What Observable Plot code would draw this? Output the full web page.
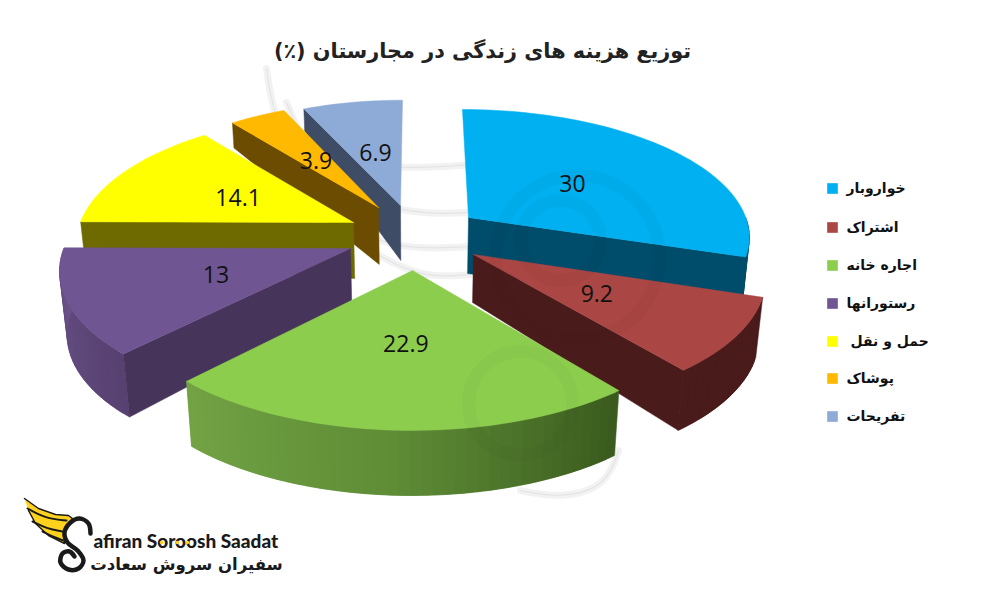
<!DOCTYPE html>
<html><head><meta charset="utf-8">
<script src="https://cdn.jsdelivr.net/npm/d3@7"></script>
<script src="https://cdn.jsdelivr.net/npm/@observablehq/plot@0.6"></script>
<style>html,body{margin:0;padding:0;background:#fff}svg{display:block}</style>
</head><body><div id="chart"></div>
<script>
const titleText = "\u200Fتوزیع هزینه های زندگی در مجارستان (٪)\u200F";
const categories = ["خواروبار","اشتراک","اجاره خانه","رستورانها","حمل و نقل","پوشاک","تفریحات"];
const values = [30, 9.2, 22.9, 13, 14.1, 3.9, 6.9];
const colors = ["#00b0f0","#aa4644","#8ccd4e","#705593","#ffff00","#ffb900","#8eaad6"];
const edgeColors = ["#004c6b","#4a1b1b","#3c5c20","#47345a","#6e6a00","#6b4c00","#3f4c66"];
const rimColors = [["#004c6b","#004c6b"],["#4a1b1b","#4a1b1b"],["#39591d","#5e8c36","#72a344"],["#574170","#6a5288"],["#6e6a00","#6e6a00"],["#6b4c00","#6b4c00"],["#3f4c66","#3f4c66"]];
// exploded apex of each slice on the pie plane (sideways, distance from viewer)
const explodeX = [0.184, 0.194, -0.017, -0.2337, -0.2296, -0.1423, -0.0621];
const explodeD = [7.444, 7.154, 7.035, 7.199, 7.403, 7.527, 7.543];
const radiusX = [1, 1, 1, 1, 0.98, 0.96, 0.96];
const depthApex = [56, 48, 60, 52, 56, 57, 55];
const depthRim = [50, 60, 65, 63, 40, 25, 22];
const frontEdge = ["end","end",null,"start","start","start","start"];
const drawOrder = [6, 5, 4, 0, 3, 1, 2];
const labelRadius = 0.49;
// camera
const CX = 417, HORIZON = -695, BETA = 6789, ALPHA = 3.29, CONVERGE = 3000;

const project = (X, D, h = 0) => {
  const v = BETA / D, u = X * v / ALPHA;
  return [CX + u - u * h / CONVERGE, v + HORIZON + h];
};
const rad = d => d * Math.PI / 180;
const total = d3.sum(values);
const cum = d3.cumsum(values);
const slices = values.map((v, i) => ({
  i, start: (i ? cum[i - 1] : 0) / total * 360, end: cum[i] / total * 360
}));
const at = (i, deg, r, h = 0) =>
  project(explodeX[i] + r * radiusX[i] * Math.sin(rad(deg)), explodeD[i] + r * Math.cos(rad(deg)), h);
const hAt = (i, r) => depthApex[i] + (depthRim[i] - depthApex[i]) * r;

const rows = [];
let fid = 0;
const poly = (pts, fill) => {
  const id = fid++;
  [...pts, pts[0]].forEach(p => rows.push({id, x: p[0], y: p[1], fill}));
};
for (const i of drawOrder) {
  const s = slices[i];
  // rim wall, only the part facing the viewer; each strip overlaps the next
  const a0 = Math.max(s.start, 90), a1 = Math.min(s.end, 270);
  if (a1 > a0) {
    const shade = d3.piecewise(d3.interpolateRgb, rimColors[i]);
    const n = Math.ceil((a1 - a0) / 2);
    for (let k = 0; k < n; k++) {
      const t0 = a0 + (a1 - a0) * k / n, t1 = Math.min(a1, a0 + (a1 - a0) * (k + 2) / n);
      const mid = d3.range(0, 5).map(q => t0 + (t1 - t0) * q / 4);
      poly([...mid.map(t => at(i, t, 1)), ...mid.slice().reverse().map(t => at(i, t, 1, hAt(i, 1)))], shade((k + .5) / n));
    }
  }
  // front edge wall
  if (frontEdge[i]) {
    const th = frontEdge[i] === "end" ? s.end : s.start;
    poly([at(i, th, 0), at(i, th, 1), at(i, th, 1, hAt(i, 1)), at(i, th, 0, hAt(i, 0))], edgeColors[i]);
  }
  // top face
  const top = [at(i, s.start, 0)];
  const n = Math.ceil((s.end - s.start) / 2);
  for (let k = 0; k <= n; k++) top.push(at(i, s.start + (s.end - s.start) * k / n, 1));
  poly(top, colors[i]);
}
const labelRows = slices.map(s => {
  const p = at(s.i, (s.start + s.end) / 2, labelRadius);
  return {x: p[0], y: p[1] + 1.5, t: String(values[s.i])};
});

// legend
const legendY = [188, 227, 265, 303, 341, 378, 416];
const legendRows = categories.map((c, i) => ({c, y: legendY[i], fill: colors[i], x: i === 4 ? 850 : 846}));

// faint watermark behind and over the pie
const bandRows = [
  [[266,68],[272,110],[290,150],[340,165],[420,168],[470,164]],
  [[286,102],[300,135],[315,170],[370,205],[430,214],[470,212]],
  [[300,165],[340,225],[400,250],[470,246]],
  [[370,250],[420,278],[470,274]],
  [[618,450],[606,486],[560,498],[520,490]]
].flatMap((l, id) => l.map(p => ({id, x: p[0], y: p[1]})));
const ringRows = [
  {x: 577, y: 257, r: 82},
  {x: 520, y: 403, r: 52},
  {x: 560, y: 240, r: 40}
];

// logo
const wing = [[24,498],[38,508],[55,514],[68,515],[72,518],[64,530],[64,543],[48,535],[35,523],[28,510]];
const feathers = [[[27,508],[45,518],[66,520]],[[32,521],[46,528],[62,531]],[[42,531],[52,536],[63,540]]];
const featherRows = feathers.flatMap((l, id) => l.map(p => ({id, x: p[0], y: p[1]})));
const swan = [[90,533],[88,523],[79,518],[70,522],[64,532],[67,542],[77,550],[83,560],[78,568],[68,569],[60,562],[62,553],[69,551],[74,556]];
const brandLatin = "afiran Soroosh Saadat";
const brandFarsi = "سفیران سروش سعادت";
const brandDots = [[161,542],[177,542],[187,542]];

const chart = Plot.plot({
  width: 1000, height: 600, margin: 0,
  x: {domain: [0, 1000], axis: null},
  y: {domain: [600, 0], axis: null},
  color: {type: "identity"},
  r: {type: "identity"},
  style: {background: "#fff"},
  marks: [
    Plot.line(bandRows, {x: "x", y: "y", z: "id", curve: "basis", stroke: "#f2f2f2", strokeWidth: 7}),
    Plot.line(bandRows, {x: "x", y: "y", z: "id", curve: "basis", stroke: "#e4e4e4", strokeWidth: 1.2}),
    Plot.line(rows, {x: "x", y: "y", z: "id", fill: "fill", stroke: "fill", strokeWidth: 0.5, curve: "linear"}),
    Plot.dot(ringRows, {x: "x", y: "y", r: "r", stroke: "#000", strokeOpacity: 0.025, strokeWidth: 13, fill: "none"}),
    Plot.text(labelRows, {x: "x", y: "y", text: "t", fontSize: 23, fill: "#111", fontFamily: "'Open Sans',sans-serif"}),
    Plot.text([titleText], {x: 482, y: 51, text: d => d, fontSize: 20.8, fontWeight: 700, fill: "#222", fontFamily: "'DejaVu Sans',sans-serif"}),
    Plot.dot(legendRows, {x: () => 832, y: "y", symbol: "square", r: 6, fill: "fill"}),
    Plot.text(legendRows, {x: "x", y: "y", text: "c", textAnchor: "start", fontSize: 14, fontWeight: 700, fill: "#111", fontFamily: "'DejaVu Sans',sans-serif"}),
    Plot.line(wing, {x: d => d[0], y: d => d[1], fill: "#ffd21f", stroke: "#1a1a1a", strokeWidth: 1.5}),
    Plot.line(featherRows, {x: "x", y: "y", z: "id", curve: "basis", stroke: "#1a1a1a", strokeWidth: 2}),
    Plot.line(swan, {x: d => d[0], y: d => d[1], curve: "catmull-rom", stroke: "#1a1a1a", strokeWidth: 4.5}),
    Plot.text([brandLatin], {x: 93, y: 541, text: d => d, textAnchor: "start", fontSize: 19, fontWeight: 900, fill: "#1a1a1a", fontFamily: "Lato,sans-serif", letterSpacing: 1}),
    Plot.dot(brandDots, {x: d => d[0], y: d => d[1], r: 1.8, fill: "#ffd21f"}),
    Plot.text([brandFarsi], {x: 186, y: 564, text: d => d, fontSize: 16.5, fontWeight: 700, fill: "#1a1a1a", fontFamily: "'DejaVu Sans',sans-serif"})
  ]
});
document.getElementById("chart").append(chart);
</script></body></html>
